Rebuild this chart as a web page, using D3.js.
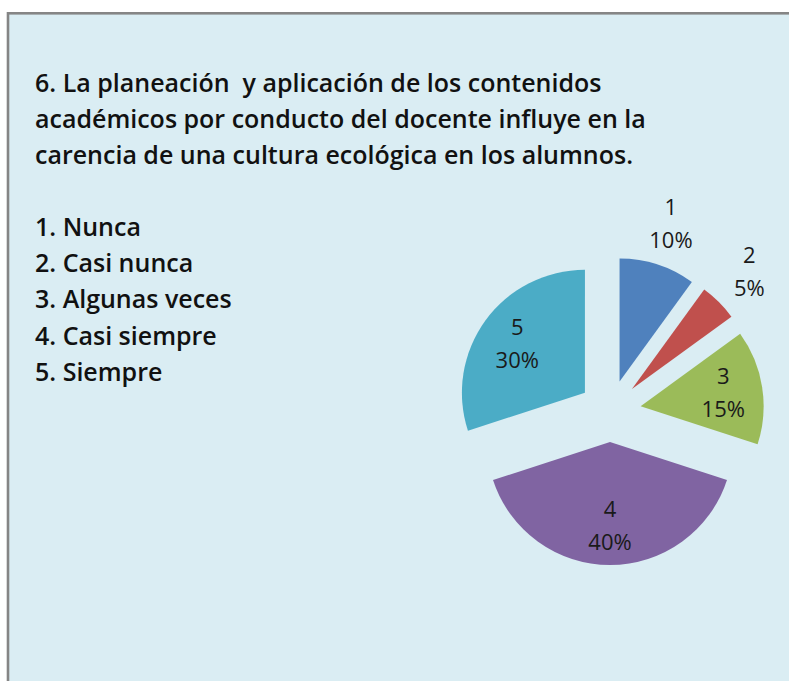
<!DOCTYPE html>
<html>
<head>
<meta charset="utf-8">
<script src="https://cdn.jsdelivr.net/npm/d3@7"></script>
<style>
  html, body { margin: 0; padding: 0; background: #ffffff; }
  svg { display: block; }
</style>
</head>
<body>
<svg id="chart" width="789" height="681"></svg>
<script>
// chart data
const categories = ['1', '2', '3', '4', '5'];
const percents = [10, 5, 15, 40, 30];
const sliceColors = ['#4f81bd', '#c0504d', '#9bbb59', '#8064a2', '#4bacc6'];
const titleLines = [
    '6. La planeación  y aplicación de los contenidos',
    'académicos por conducto del docente influye en la',
    'carencia de una cultura ecológica en los alumnos.'
];
const legendItems = ['1. Nunca', '2. Casi nunca', '3. Algunas veces', '4. Casi siempre', '5. Siempre'];

const svg = d3.select('#chart');
const fontFamily = '"Open Sans", "Noto Sans", sans-serif';

// panel background with the grey frame on top / left
svg.append('rect')
    .attr('x', 8).attr('y', 13.3)
    .attr('width', 820).attr('height', 720)
    .attr('fill', '#daedf3')
    .attr('stroke', '#858585')
    .attr('stroke-width', 2.6);

// title
svg.append('g').selectAll('text')
    .data(titleLines)
    .join('text')
    .attr('x', 35)
    .attr('y', (d, i) => 92 + i * 36)
    .attr('font-family', fontFamily)
    .attr('font-weight', 600)
    .attr('font-size', 25)
    .attr('fill', '#111')
    .style('white-space', 'pre')
    .text(d => d);

// legend text list
svg.append('g').selectAll('text')
    .data(legendItems)
    .join('text')
    .attr('x', 35)
    .attr('y', (d, i) => 236 + i * 36.2)
    .attr('font-family', fontFamily)
    .attr('font-weight', 600)
    .attr('font-size', 25)
    .attr('fill', '#111')
    .text(d => d);

// exploded pie
const cx = 610, cy = 411, radius = 123, explode = 31;
const pie = d3.pie().sort(null).value(d => d.value);
const arcs = pie(categories.map((c, i) => ({cat: c, value: percents[i], color: sliceColors[i]})));
const arc = d3.arc().innerRadius(0).outerRadius(radius);
// centroid of a zero-width ring sits right on that radius
const labelArcIn = d3.arc().innerRadius(radius * 0.68).outerRadius(radius * 0.68);
const labelArcOut = d3.arc().innerRadius(radius * 1.35).outerRadius(radius * 1.35);

const pieG = svg.append('g').attr('transform', `translate(${cx},${cy})`);

const slices = pieG.selectAll('g.slice')
    .data(arcs)
    .join('g')
    .attr('class', 'slice')
    .attr('transform', d => {
        const mid = (d.startAngle + d.endAngle) / 2;
        return `translate(${Math.sin(mid) * explode},${-Math.cos(mid) * explode})`;
    });

slices.append('path')
    .attr('d', arc)
    .attr('fill', d => d.data.color);

// small slices get their labels outside, like Excel's best fit
const labels = slices.append('text')
    .attr('transform', d => {
        const p = d.data.value <= 10 ? labelArcOut.centroid(d) : labelArcIn.centroid(d);
        return `translate(${p[0]},${p[1]})`;
    })
    .attr('text-anchor', 'middle')
    .attr('font-family', fontFamily)
    .attr('font-size', 22)
    .attr('fill', '#1a1a1a');

labels.append('tspan').attr('x', 0).attr('y', -9).text(d => d.data.cat);
labels.append('tspan').attr('x', 0).attr('y', 24).text(d => d.data.value + '%');
</script>
</body>
</html>
